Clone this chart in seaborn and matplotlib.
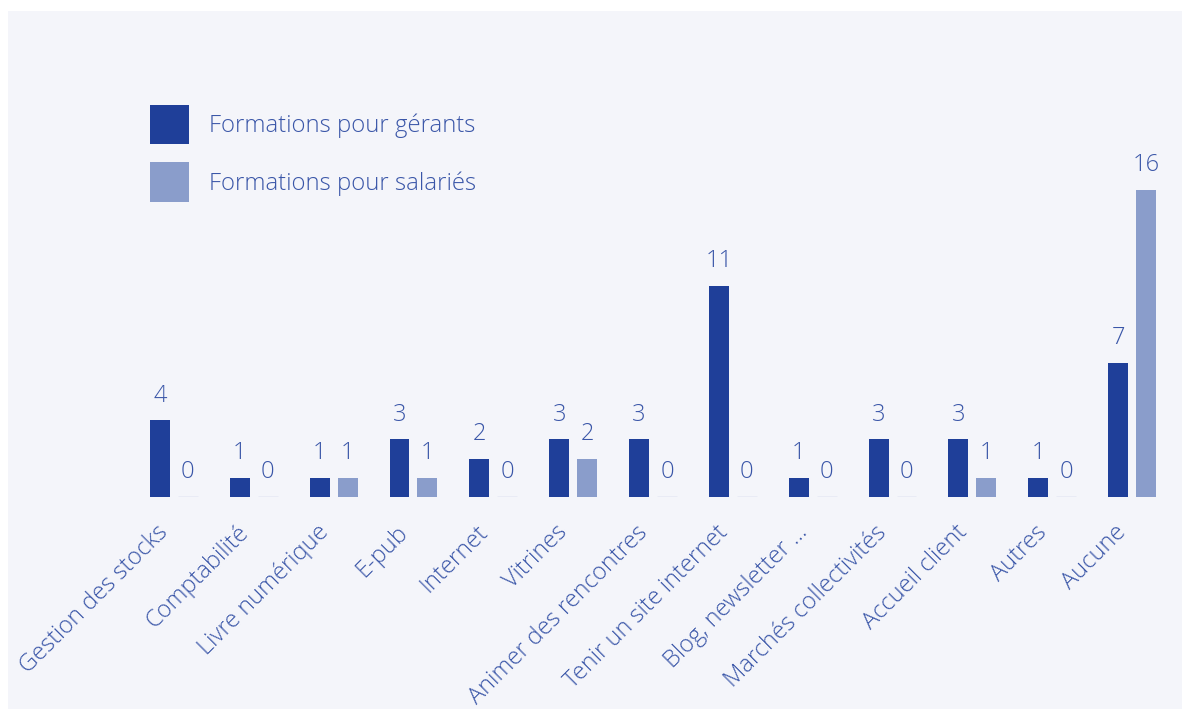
import matplotlib
matplotlib.use("Agg")
import matplotlib.pyplot as plt
import matplotlib.transforms as mtransforms
import seaborn as sns
import pandas as pd
from matplotlib.patches import Rectangle

categories = [
    "Gestion des stocks", "Comptabilité", "Livre numérique", "E-pub", "Internet",
    "Vitrines", "Animer des rencontres", "Tenir un site internet",
    "Blog, newsletter …", "Marchés collectivités", "Accueil client", "Autres", "Aucune",
]
gerants = [4, 1, 1, 3, 2, 3, 3, 11, 1, 3, 3, 1, 7]
salaries = [0, 0, 1, 1, 0, 2, 0, 0, 0, 0, 1, 0, 16]
series_names = ["Formations pour gérants", "Formations pour salariés"]

DARK = "#1f3f99"
LIGHT = "#8a9dcb"
TEXT = "#3a56a8"
BG = "#f4f5fa"
ZERO_LINE = "#bcc6e2"

df = pd.DataFrame({
    "categorie": categories * 2,
    "serie": [series_names[0]] * len(categories) + [series_names[1]] * len(categories),
    "valeur": gerants + salaries,
})

sns.set_theme(style="white")
plt.rcParams["font.family"] = ["Open Sans", "DejaVu Sans"]
plt.rcParams["font.weight"] = "light"

W, H = 1182, 709
fig = plt.figure(figsize=(W / 100, H / 100), dpi=100, facecolor="white")
fig.patches.append(Rectangle((8 / W, 0), 1, 1 - 11 / H, transform=fig.transFigure,
                             facecolor=BG, edgecolor="none", zorder=-10))

# axes: baseline at y=497 px, category pitch ~80 px
left, right = 134, 1172
bottom_px, top_px = 497, 140
ax = fig.add_axes([left / W, 1 - bottom_px / H, (right - left) / W, (bottom_px - top_px) / H])
ax.set_facecolor("none")

sns.barplot(data=df, x="categorie", y="valeur", hue="serie", order=categories,
            hue_order=series_names, palette=[DARK, LIGHT], width=0.7, gap=0.286,
            saturation=1, linewidth=0, ax=ax, legend=True)

ax.set_xlim(-0.5, len(categories) - 0.5)
ax.set_ylim(0, (bottom_px - top_px) / 19.2)

# zero-valued bars are drawn as a faint line on the baseline
for container in ax.containers:
    for patch in container.patches:
        if patch.get_height() == 0:
            patch.set_edgecolor(ZERO_LINE)
            patch.set_linewidth(1.0)
    ax.bar_label(container, labels=[f"{int(v)}" for v in container.datavalues],
                 padding=9, fontsize=17, color=TEXT, fontweight="light")

for s in ax.spines.values():
    s.set_visible(False)
ax.set_yticks([])
ax.set_xlabel("")
ax.set_ylabel("")
ax.tick_params(axis="x", length=0, pad=0)
ax.set_xticks(range(len(categories)))
ax.set_xticklabels(categories, rotation=45, ha="right", va="center",
                   rotation_mode="anchor", fontsize=17, color=TEXT, fontweight="light")

# move the rotated labels so their end sits just below-left of each group
offset = mtransforms.ScaledTranslation(-9 / 100, -32 / 100, fig.dpi_scale_trans)
for lbl in ax.get_xticklabels():
    lbl.set_transform(lbl.get_transform() + offset)

handles, labels = ax.get_legend_handles_labels()
leg = ax.legend(handles, labels, loc="upper left", bbox_to_anchor=(150 / W, 1 - 105 / H),
                bbox_transform=fig.transFigure, frameon=False, borderpad=0, borderaxespad=0,
                labelcolor=TEXT, handlelength=1.65, handleheight=2.15,
                labelspacing=0.76, handletextpad=0.8,
                prop={"size": 17.2, "weight": "light"})
for h in leg.legend_handles:
    h.set_edgecolor("none")
    h.set_linewidth(0)

fig.savefig("out.png", dpi=100, facecolor="white")
